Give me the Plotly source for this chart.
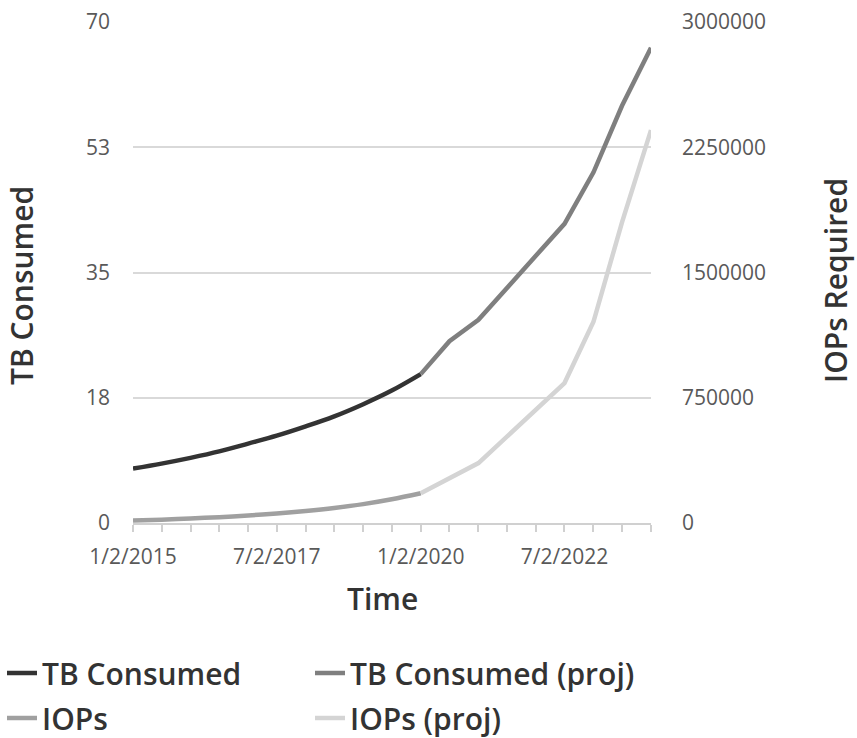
import plotly.graph_objects as go

# Historical measurements (every six months)
hist_dates = ["2015-01-02", "2015-07-02", "2016-01-02", "2016-07-02", "2017-01-02",
              "2017-07-02", "2018-01-02", "2018-07-02", "2019-01-02", "2019-07-02",
              "2020-01-02"]
tb_consumed = [7.6, 8.3, 9.1, 10.0, 11.1, 12.2, 13.5, 14.9, 16.6, 18.5, 20.8]
iops = [15000, 20000, 27000, 35000, 45000, 57000, 72000, 90000, 113000, 142000, 178000]

# Projections
proj_dates = ["2020-01-02", "2020-07-02", "2021-01-02", "2022-07-02",
              "2023-01-02", "2023-07-02", "2024-01-02"]
tb_proj = [20.8, 25.4, 28.4, 41.8, 49.0, 58.3, 66.4]
iops_proj = [178000, 270000, 359000, 838000, 1205000, 1800000, 2353000]

# Axis ticks
x_tickvals = ["2015-01-02", "2017-07-02", "2020-01-02", "2022-07-02"]
x_ticktext = ["1/2/2015", "7/2/2017", "1/2/2020", "7/2/2022"]
y1_tickvals = [0, 17.5, 35, 52.5, 70]
y1_ticktext = ["0", "18", "35", "53", "70"]
y2_tickvals = [0, 750000, 1500000, 2250000, 3000000]
y2_ticktext = ["0", "750000", "1500000", "2250000", "3000000"]

TICK_FONT = dict(family="Open Sans", size=21, color="#595959")
TITLE_FONT = dict(family="Open Sans", size=30, color="#333333", weight=600)
LW = 4.5

# plot area in pixels
L, R, T, B = 133, 651, 22, 523
PW, PH = R - L, B - T


def px(x):
    return (x - L) / PW


def py(y):
    return (B - y) / PH


fig = go.Figure()
fig.add_trace(go.Scatter(x=hist_dates, y=tb_consumed, name="TB Consumed", mode="lines",
                         legend="legend", legendgroup="a",
                         line=dict(color="#333333", width=LW, shape="spline", smoothing=1.0)))
fig.add_trace(go.Scatter(x=proj_dates, y=tb_proj, name="TB Consumed (proj)", mode="lines",
                         legend="legend2", legendgroup="b",
                         line=dict(color="#7f7f7f", width=LW)))
fig.add_trace(go.Scatter(x=hist_dates, y=iops, name="IOPs", mode="lines", yaxis="y2",
                         legend="legend", legendgroup="c",
                         line=dict(color="#a0a0a0", width=LW, shape="spline", smoothing=1.0)))
fig.add_trace(go.Scatter(x=proj_dates, y=iops_proj, name="IOPs (proj)", mode="lines", yaxis="y2",
                         legend="legend2", legendgroup="d",
                         line=dict(color="#d4d4d4", width=LW)))

legend_common = dict(
    orientation="v", yanchor="top", xanchor="left",
    font=TITLE_FONT, itemwidth=30, tracegroupgap=3,
    bgcolor="rgba(0,0,0,0)", borderwidth=0,
)

fig.update_layout(
    width=857, height=738,
    margin=dict(l=L, r=857 - R, t=T, b=738 - B, autoexpand=False),
    paper_bgcolor="white", plot_bgcolor="white",
    showlegend=True,
    xaxis=dict(
        type="date", range=["2015-01-02", "2024-01-02"],
        tickvals=x_tickvals, ticktext=x_ticktext,
        ticks="outside", ticklen=7, tickcolor="#d0d0d0", tickwidth=2,
        minor=dict(dtick="M6", tick0="2015-01-02", ticks="outside", ticklen=7,
                   tickcolor="#d0d0d0", tickwidth=2, showgrid=False),
        showline=True, linecolor="#d0d0d0", linewidth=2,
        showgrid=False, zeroline=False,
        tickfont=TICK_FONT,
        ticklabelstandoff=7,
    ),
    yaxis=dict(
        range=[0, 70], tickvals=y1_tickvals, ticktext=y1_ticktext,
        showgrid=True, gridcolor="#d9d9d9", gridwidth=2,
        zeroline=False, showline=False, ticks="",
        tickfont=TICK_FONT,
        ticklabelstandoff=22,
    ),
    yaxis2=dict(
        range=[0, 3000000], tickvals=y2_tickvals, ticktext=y2_ticktext,
        overlaying="y", side="right", showgrid=False, zeroline=False,
        showline=False, ticks="",
        tickfont=TICK_FONT,
        ticklabelstandoff=30,
    ),
    legend=dict(x=px(2), y=py(647), **legend_common),
    legend2=dict(x=px(310), y=py(647), **legend_common),
    annotations=[
        dict(text="TB Consumed", xref="paper", yref="paper",
             x=px(22), y=py(286), textangle=-90,
             showarrow=False, xanchor="center", yanchor="middle", font=TITLE_FONT),
        dict(text="IOPs Required", xref="paper", yref="paper",
             x=px(835), y=py(281), textangle=-90,
             showarrow=False, xanchor="center", yanchor="middle", font=TITLE_FONT),
        dict(text="Time", xref="paper", yref="paper",
             x=px(382), y=py(598),
             showarrow=False, xanchor="center", yanchor="middle", font=TITLE_FONT),
    ],
)

fig.write_html("out.html")
